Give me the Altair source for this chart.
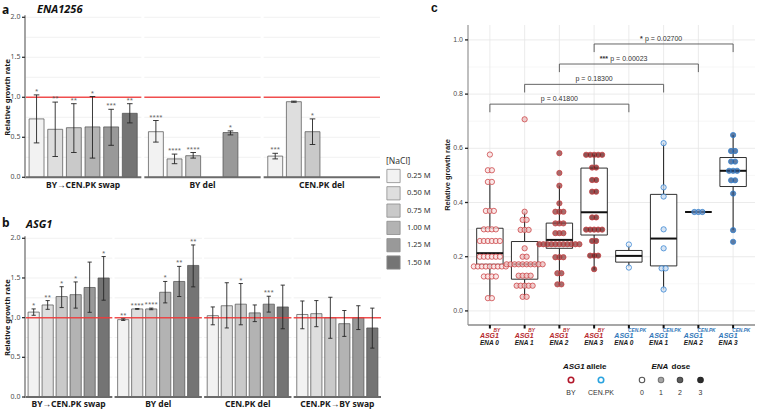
import altair as alt
import pandas as pd

# ---------------------------------------------------------------- data
nacl_levels = ["0.25 M", "0.50 M", "0.75 M", "1.00 M", "1.25 M", "1.50 M"]
nacl_grays = ["#f2f2f2", "#dedede", "#c9c9c9", "#b3b3b3", "#999999", "#747474"]

# a: ENA1256 allele swap / deletions
ena_facets = ["BY→CEN.PK swap", "BY del", "CEN.PK del"]
ena_facet = [0, 0, 0, 0, 0, 0, 1, 1, 1, 1, 2, 2, 2]
ena_nacl = ["0.25 M", "0.50 M", "0.75 M", "1.00 M", "1.25 M", "1.50 M",
            "0.25 M", "0.50 M", "0.75 M", "1.25 M",
            "0.25 M", "0.50 M", "0.75 M"]
ena_rate = [0.73, 0.60, 0.62, 0.63, 0.63, 0.80, 0.57, 0.23, 0.27, 0.56, 0.265, 0.945, 0.57]
ena_lo = [0.43, 0.26, 0.31, 0.24, 0.40, 0.68, 0.44, 0.17, 0.24, 0.53, 0.23, 0.938, 0.41]
ena_hi = [1.03, 0.94, 0.92, 1.01, 0.85, 0.92, 0.71, 0.29, 0.31, 0.58, 0.30, 0.952, 0.73]
ena_sig = ["*", "**", "**", "*", "***", "**", "****", "****", "****", "*", "***", "", "*"]

# b: ASG1 allele swaps / deletions
asg_facets = ["BY→CEN.PK swap", "BY del", "CEN.PK del", "CEN.PK→BY swap"]
asg_facet = [0] * 6 + [1] * 6 + [2] * 6 + [3] * 6
asg_nacl = nacl_levels * 4
asg_rate = [1.07, 1.16, 1.266, 1.29, 1.38, 1.50,
            0.975, 1.11, 1.11, 1.32, 1.456, 1.658,
            1.025, 1.15, 1.17, 1.06, 1.17, 1.135,
            1.04, 1.05, 1.00, 0.924, 1.00, 0.87]
asg_lo = [1.03, 1.105, 1.127, 1.12, 1.067, 1.22,
          0.965, 1.105, 1.10, 1.186, 1.266, 1.388,
          0.91, 0.87, 0.91, 0.95, 1.07, 0.86,
          0.86, 0.886, 0.74, 0.764, 0.85, 0.616]
asg_hi = [1.11, 1.215, 1.39, 1.45, 1.70, 1.77,
          0.985, 1.115, 1.12, 1.456, 1.646, 1.916,
          1.135, 1.44, 1.43, 1.16, 1.27, 1.41,
          1.21, 1.215, 1.257, 1.09, 1.15, 1.12]
asg_sig = ["*", "**", "*", "*", "", "*",
           "**", "****", "****", "*", "**", "**",
           "", "", "*", "", "***", "",
           "", "", "", "", "", ""]

# c: growth rate per ASG1 allele and ENA copy number
grp_allele = ["BY", "BY", "BY", "BY", "CEN.PK", "CEN.PK", "CEN.PK", "CEN.PK"]
grp_dose = [0, 1, 2, 3, 0, 1, 2, 3]
grp_rates = [
    [0.577, 0.519, 0.519, 0.476, 0.476, 0.369, 0.369, 0.369,
     0.301, 0.301, 0.301, 0.301, 0.258, 0.258, 0.258, 0.258, 0.258, 0.258,
     0.200, 0.200, 0.200, 0.200, 0.200, 0.200,
     0.164, 0.164, 0.164, 0.164, 0.164, 0.164, 0.164, 0.164, 0.164,
     0.127, 0.127, 0.127, 0.127, 0.047, 0.047],
    [0.707, 0.366, 0.336, 0.336, 0.299, 0.299, 0.299, 0.231, 0.200, 0.200,
     0.172, 0.172, 0.172, 0.172, 0.172, 0.172, 0.172, 0.172, 0.172, 0.172,
     0.130, 0.130, 0.130, 0.130, 0.093, 0.093, 0.093, 0.093, 0.093, 0.052, 0.052],
    [0.582, 0.509, 0.462, 0.397, 0.366, 0.366, 0.366, 0.323, 0.323, 0.323,
     0.287, 0.287, 0.287,
     0.246, 0.246, 0.246, 0.246, 0.246, 0.246, 0.246, 0.246, 0.246, 0.246, 0.246,
     0.198, 0.198, 0.198, 0.139, 0.139, 0.098, 0.098],
    [0.576, 0.576, 0.576, 0.576, 0.576, 0.529, 0.529, 0.483, 0.483, 0.440, 0.440,
     0.345, 0.345, 0.300, 0.300, 0.300, 0.300, 0.300, 0.258, 0.258,
     0.204, 0.204, 0.204, 0.154],
    [0.245, 0.160],
    [0.619, 0.456, 0.422, 0.301, 0.231, 0.157, 0.157, 0.079],
    [0.365, 0.365, 0.365],
    [0.649, 0.590, 0.590, 0.551, 0.551, 0.517, 0.517, 0.517, 0.482, 0.482,
     0.433, 0.298, 0.255],
]
box_q1 = [0.172, 0.117, 0.231, 0.280, 0.180, 0.166, 0.365, 0.459]
box_med = [0.213, 0.172, 0.262, 0.364, 0.203, 0.267, 0.365, 0.517]
box_q3 = [0.305, 0.256, 0.324, 0.527, 0.223, 0.430, 0.365, 0.566]
box_lo = [0.047, 0.045, 0.098, 0.152, 0.160, 0.079, 0.365, 0.298]
box_hi = [0.476, 0.366, 0.462, 0.576, 0.245, 0.619, 0.365, 0.649]

cmp_from = [0, 1, 2, 3]
cmp_to = [4, 5, 6, 7]
cmp_level = [0.763, 0.836, 0.911, 0.985]
cmp_p = ["0.41800", "0.18300", "0.00023", "0.02700"]
cmp_stars = ["", "", "***", "*"]

# ---------------------------------------------------------------- styling
FONT_AB = "Noto Sans"
FONT_C = "Liberation Sans"
PITCH = 6.4          # facet pitch, in bar slots
TXT = "#4d4d4d"

allele_stroke = {"BY": "#c93d40", "CEN.PK": "#3080d0"}
allele_fill = {"BY": ["#f8e1e1", "#ebbcbc", "#8b3c3c", "#651c1c"],
               "CEN.PK": ["#ebf2fb", "#c9dbef", "#6587b5", "#295187"]}
allele_text = {"BY": "#b5262b", "CEN.PK": "#2f76b8"}


def one_row(**kw):
    return pd.DataFrame({k: [v] for k, v in kw.items()})


def text_at(txt, x, y, size, weight="normal", style="normal", color=TXT,
            font=FONT_AB, align="center", angle=0, baseline="middle"):
    return alt.Chart(one_row(t=txt)).mark_text(
        text=txt, fontSize=size, fontWeight=weight, fontStyle=style, color=color,
        font=font, align=align, angle=angle, baseline=baseline
    ).encode(x=alt.value(x), y=alt.value(y))


def bar_panel(facets, facet, nacl, rate, lo, hi, sig, xrange, yrange,
              strip_y, strip_size, legend):
    nf = len(facets)
    xs = alt.Scale(domain=[-0.12, (nf - 1) * PITCH + 6.12], range=xrange, nice=False, zero=False)
    ys = alt.Scale(domain=[0, 2], range=yrange, nice=False, zero=False)

    def X(f):
        return alt.X(f, type="quantitative", scale=xs, axis=None)

    def Y(f):
        return alt.Y(f, type="quantitative", scale=ys, axis=None)

    bars = pd.DataFrame({"facet": facet, "nacl": nacl, "rate": rate,
                         "lo": lo, "hi": hi, "sig": sig})
    bars["xc"] = bars.facet * PITCH + bars.nacl.map(nacl_levels.index) + 0.5
    bars["x0"] = bars.xc - 0.4
    bars["x1"] = bars.xc + 0.4
    bars["cl"] = bars.xc - 0.15
    bars["cr"] = bars.xc + 0.15
    bars["base"] = 0.0

    panels = pd.DataFrame({"strip": facets, "f": list(range(nf))})
    panels["left"] = panels.f * PITCH - 0.12
    panels["right"] = panels.f * PITCH + 6.12
    panels["mid"] = panels.f * PITCH + 3
    panels["one"] = 1.0
    panels["zero"] = 0.0
    grid = panels.merge(pd.DataFrame({"g": [0.25, 0.5, 0.75, 1.25, 1.5, 1.75, 2.0]}), how="cross")
    ticks = pd.DataFrame({"v": [0.0, 0.5, 1.0, 1.5, 2.0]})
    ticks["lab"] = ticks.v.map(lambda v: f"{v:.1f}")

    x_axis = xrange[0]
    out = [
        alt.Chart(grid).mark_rule(color="#ebebeb", strokeWidth=0.7).encode(
            x=X("left"), x2="right", y=Y("g")),
        alt.Chart(bars).mark_bar(stroke="#4d4d4d", strokeWidth=0.7).encode(
            x=X("x0"), x2="x1", y=Y("rate"), y2="base",
            color=alt.Color("nacl:N", scale=alt.Scale(domain=nacl_levels, range=nacl_grays),
                            legend=legend)),
        alt.Chart(panels).mark_rule(color="#ee3b3b", strokeWidth=1.5, opacity=0.9).encode(
            x=X("left"), x2="right", y=Y("one")),
        alt.Chart(bars).mark_rule(color="#262626", strokeWidth=0.9).encode(
            x=X("xc"), y=Y("lo"), y2="hi"),
        alt.Chart(bars).mark_rule(color="#262626", strokeWidth=0.9).encode(
            x=X("cl"), x2="cr", y=Y("lo")),
        alt.Chart(bars).mark_rule(color="#262626", strokeWidth=0.9).encode(
            x=X("cl"), x2="cr", y=Y("hi")),
        alt.Chart(bars).mark_text(fontSize=6, color="#555555", baseline="bottom", dy=-1,
                                  font=FONT_AB).encode(
            x=X("xc"), y=Y("hi"), text="sig:N"),
        alt.Chart(panels).mark_rule(color="#6b6b6b", strokeWidth=2).encode(
            x=X("left"), x2="right", y=Y("zero")),
        alt.Chart(panels).mark_text(fontSize=strip_size, fontWeight="bold", color="#1a1a1a",
                                    font=FONT_AB).encode(
            x=X("mid"), y=alt.value(strip_y), text="strip:N"),
        alt.Chart(one_row(a=0)).mark_rule(color="#9a9a9a", strokeWidth=1.8).encode(
            x=alt.value(x_axis), y=alt.value(yrange[1] - 2), y2=alt.value(yrange[0] + 1)),
        alt.Chart(ticks).mark_rule(color="#333333", strokeWidth=1.3).encode(
            x=alt.value(x_axis - 3), x2=alt.value(x_axis), y=Y("v")),
        alt.Chart(ticks).mark_text(fontSize=7, color=TXT, align="right", font=FONT_AB).encode(
            x=alt.value(x_axis - 4.5), y=Y("v"), text="lab:N"),
        text_at("Relative growth rate", 8, (yrange[0] + yrange[1]) / 2, 7.5, weight="bold",
                color="#1a1a1a", angle=270),
    ]
    return out


layers = []

nacl_legend = alt.Legend(
    title="[NaCl]", orient="none", legendX=386, legendY=157,
    symbolType="square", symbolSize=175, symbolStrokeColor="#8c8c8c",
    symbolStrokeWidth=0.8, symbolOpacity=1, rowPadding=0.3, labelOffset=6,
    labelFont=FONT_AB, labelFontSize=7.5, labelColor="#333333",
    titleFont=FONT_AB, titleFontSize=8.5, titleFontWeight="normal",
    titleColor="#333333", titlePadding=3)

layers += bar_panel(ena_facets, ena_facet, ena_nacl, ena_rate, ena_lo, ena_hi, ena_sig,
                    [25, 380], [177.3, 17.3], 185, 8.5, nacl_legend)
layers += bar_panel(asg_facets, asg_facet, asg_nacl, asg_rate, asg_lo, asg_hi, asg_sig,
                    [25, 381], [397, 238.3], 404, 8.5, None)

layers += [
    text_at("a", 2, 10, 12, weight="bold", color="#111111", align="left"),
    text_at("ENA1256", 37, 10, 11, weight="bold", style="italic", color="#111111", align="left"),
    text_at("b", 2, 223, 12, weight="bold", color="#111111", align="left"),
    text_at("ASG1", 26, 225, 11, weight="bold", style="italic", color="#111111", align="left"),
]

# ---------------------------------------------------------------- panel c
XC0, XC1, YC0, YC1 = 468, 755, 325, 25
xdom = [-0.63, 7.63]
unit = (XC1 - XC0) / (xdom[1] - xdom[0])
xs_c = alt.Scale(domain=xdom, range=[XC0, XC1], nice=False, zero=False)
ys_c = alt.Scale(domain=[-0.052, 1.055], range=[YC0, YC1], nice=False, zero=False)


def XCf(f):
    return alt.X(f, type="quantitative", scale=xs_c, axis=None)


def YCf(f):
    return alt.Y(f, type="quantitative", scale=ys_c, axis=None)


minor = pd.DataFrame({"v": [0.1, 0.3, 0.5, 0.7, 0.9]})
major = pd.DataFrame({"v": [0.0, 0.2, 0.4, 0.6, 0.8, 1.0]})
major["lab"] = major.v.map(lambda v: f"{v:.1f}")
cats = pd.DataFrame({"g": list(range(8)), "allele": grp_allele, "dose": grp_dose,
                     "q1": box_q1, "med": box_med, "q3": box_q3,
                     "lo": box_lo, "hi": box_hi})
cats["bl"] = cats.g - 0.38
cats["br"] = cats.g + 0.38
cats["col"] = cats.allele.map(allele_text)
# tick label block: "ASG1" (~13.5 px at 7 px type) followed by the allele as a superscript
ASG_W = 13.6
cats["half"] = cats.allele.map({"BY": 10.0, "CEN.PK": 14.5})
cats["lx"] = cats.g - cats.half / unit
cats["sx"] = cats.g + (ASG_W - cats.half) / unit
cats["ena"] = cats.dose.map(lambda d: f"ENA {d}")

# dot-plot stacking: equal values form a centred row
DOT_STEP = 4.0 / unit
pts = []
for g, vals in enumerate(grp_rates):
    counts = pd.Series(vals).value_counts()
    for v, n in counts.items():
        for k in range(n):
            pts.append({"g": g, "rate": v,
                        "px": g + (k - (n - 1) / 2) * DOT_STEP,
                        "fill": allele_fill[grp_allele[g]][grp_dose[g]],
                        "stroke": allele_stroke[grp_allele[g]]})
pts = pd.DataFrame(pts)

cmp = pd.DataFrame({"a": cmp_from, "b": cmp_to, "y": cmp_level,
                    "p": [f"p = {p}" for p in cmp_p], "stars": cmp_stars})
cmp["tip"] = cmp.y - 0.03
cmp["mid"] = (cmp.a + cmp.b) / 2
cmp["sx"] = cmp.mid - 21.0 / unit

layers += [
    alt.Chart(minor).mark_rule(color="#f2f2f2", strokeWidth=0.6).encode(
        x=alt.value(XC0), x2=alt.value(XC1), y=YCf("v")),
    alt.Chart(major).mark_rule(color="#e6e6e6", strokeWidth=0.8).encode(
        x=alt.value(XC0), x2=alt.value(XC1), y=YCf("v")),
    alt.Chart(cats).mark_rule(color="#e6e6e6", strokeWidth=0.8).encode(
        x=XCf("g"), y=alt.value(YC1), y2=alt.value(YC0)),
    # box plots
    alt.Chart(cats).mark_rule(color="#1a1a1a", strokeWidth=1).encode(
        x=XCf("g"), y=YCf("lo"), y2="q1"),
    alt.Chart(cats).mark_rule(color="#1a1a1a", strokeWidth=1).encode(
        x=XCf("g"), y=YCf("q3"), y2="hi"),
    alt.Chart(cats).mark_bar(fill="white", stroke="#1a1a1a", strokeWidth=0.9).encode(
        x=XCf("bl"), x2="br", y=YCf("q1"), y2="q3"),
    alt.Chart(cats).mark_rule(color="#111111", strokeWidth=2).encode(
        x=XCf("bl"), x2="br", y=YCf("med")),
    # individual strains
    alt.Chart(pts).mark_circle(size=28, strokeWidth=1, fillOpacity=0.75,
                               strokeOpacity=0.75, opacity=1).encode(
        x=XCf("px"), y=YCf("rate"),
        fill=alt.Fill("fill:N", scale=None), stroke=alt.Stroke("stroke:N", scale=None)),
    # comparison brackets
    alt.Chart(cmp).mark_rule(color="#555555", strokeWidth=0.9).encode(
        x=XCf("a"), x2="b", y=YCf("y")),
    alt.Chart(cmp).mark_rule(color="#555555", strokeWidth=0.9).encode(
        x=XCf("a"), y=YCf("y"), y2="tip"),
    alt.Chart(cmp).mark_rule(color="#555555", strokeWidth=0.9).encode(
        x=XCf("b"), y=YCf("y"), y2="tip"),
    alt.Chart(cmp).mark_text(fontSize=7, color="#333333", baseline="bottom", dy=-2,
                             font=FONT_C).encode(x=XCf("mid"), y=YCf("y"), text="p:N"),
    alt.Chart(cmp).mark_text(fontSize=7, color="#333333", baseline="bottom", dy=-2,
                             align="right", font=FONT_C, fontWeight="bold").encode(
        x=XCf("sx"), y=YCf("y"), text="stars:N"),
    # axes
    alt.Chart(one_row(a=0)).mark_rule(color="#8a8a8a", strokeWidth=1.1).encode(
        x=alt.value(XC0), y=alt.value(YC1), y2=alt.value(YC0)),
    alt.Chart(one_row(a=0)).mark_rule(color="#8a8a8a", strokeWidth=1.4).encode(
        x=alt.value(XC0), x2=alt.value(XC1), y=alt.value(YC0)),
    alt.Chart(major).mark_rule(color="#222222", strokeWidth=1.3).encode(
        x=alt.value(XC0 - 3), x2=alt.value(XC0), y=YCf("v")),
    alt.Chart(major).mark_text(fontSize=7, color=TXT, align="right", font=FONT_C).encode(
        x=alt.value(XC0 - 5), y=YCf("v"), text="lab:N"),
    alt.Chart(cats).mark_rule(color="#111111", strokeWidth=2).encode(
        x=XCf("g"), y=alt.value(YC0), y2=alt.value(YC0 + 3.5)),
    alt.Chart(cats).mark_text(fontSize=7, fontWeight="bold", fontStyle="italic",
                              align="left", font=FONT_C).encode(
        x=XCf("lx"), y=alt.value(335.5), text=alt.value("ASG1"),
        color=alt.Color("col:N", scale=None)),
    alt.Chart(cats).mark_text(fontSize=4.8, fontWeight="bold", fontStyle="italic",
                              align="left", font=FONT_C).encode(
        x=XCf("sx"), y=alt.value(331), text="allele:N",
        color=alt.Color("col:N", scale=None)),
    alt.Chart(cats).mark_text(fontSize=6.5, fontWeight="bold", fontStyle="italic",
                              align="left", font=FONT_C, color="#1a1a1a").encode(
        x=XCf("lx"), y=alt.value(343), text="ena:N"),
    text_at("Relative growth rate", 448, 175, 7.5, weight="bold", color="#1a1a1a",
            angle=270, font=FONT_C),
    text_at("c", 431, 8, 12, weight="bold", color="#111111", align="left", font=FONT_C),
]

# legends of panel c
legend_allele = pd.DataFrame({"lab": ["BY", "CEN.PK"], "col": ["#b2182b", "#2aa3df"],
                              "x": [571, 601]})
legend_dose = pd.DataFrame({"lab": ["0", "1", "2", "3"],
                            "fill": ["#ffffff", "#a6a6a6", "#5e5e5e", "#2b2b2b"],
                            "edge": ["#555555", "#777777", "#444444", "#222222"],
                            "x": [642, 661, 680, 700.5]})
layers += [
    text_at("ASG1", 563, 367, 8, weight="bold", style="italic", color="#111111",
            align="left", font=FONT_C),
    text_at("allele", 586.5, 367, 8, weight="bold", color="#111111", align="left", font=FONT_C),
    text_at("ENA", 651.5, 367, 8, weight="bold", style="italic", color="#111111",
            align="left", font=FONT_C),
    text_at("dose", 671.5, 367, 8, weight="bold", color="#111111", align="left", font=FONT_C),
    alt.Chart(legend_allele).mark_point(size=30, strokeWidth=1.6, filled=False, opacity=1).encode(
        x=alt.X("x:Q", scale=None, axis=None), y=alt.value(380),
        stroke=alt.Stroke("col:N", scale=None)),
    alt.Chart(legend_allele).mark_text(fontSize=7, color="#333333", font=FONT_C).encode(
        x=alt.X("x:Q", scale=None, axis=None), y=alt.value(392.5), text="lab:N"),
    alt.Chart(legend_dose).mark_point(size=30, strokeWidth=1.1, filled=True, opacity=1).encode(
        x=alt.X("x:Q", scale=None, axis=None), y=alt.value(380),
        fill=alt.Fill("fill:N", scale=None), stroke=alt.Stroke("edge:N", scale=None)),
    alt.Chart(legend_dose).mark_text(fontSize=7, color="#333333", font=FONT_C).encode(
        x=alt.X("x:Q", scale=None, axis=None), y=alt.value(392.5), text="lab:N"),
]

chart = alt.layer(*layers).resolve_scale(
    x="independent", y="independent", color="independent"
).properties(
    width=760, height=412, padding=0, autosize="none", background="white"
).configure_view(strokeWidth=0)

chart.save("out.html", embed_options={"renderer": "svg", "actions": False})
